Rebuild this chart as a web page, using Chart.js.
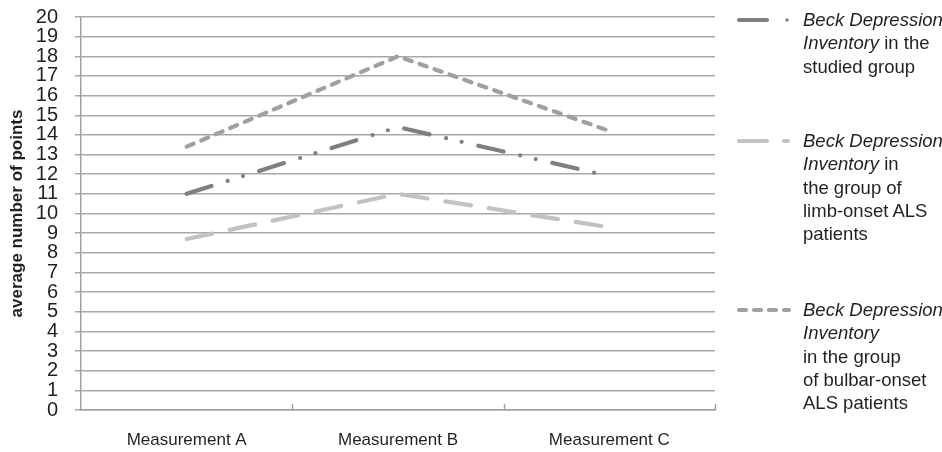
<!DOCTYPE html>
<html>
<head>
<meta charset="utf-8">
<script src="https://cdn.jsdelivr.net/npm/chart.js@4/dist/chart.umd.min.js"></script>
<style>
  html,body{margin:0;padding:0;background:#fff;}
  #wrap{position:relative;width:942px;height:452px;overflow:hidden;}
  canvas{position:absolute;left:0;top:0;}
  .leg{position:absolute;left:803px;font-family:"Liberation Sans Narrow","Arial Narrow","Liberation Sans",sans-serif;font-size:18.5px;line-height:23.3px;color:#231f20;white-space:nowrap;}
  .leg i{font-style:italic;}
</style>
</head>
<body>
<div id="wrap">
<canvas id="c" width="942" height="452"></canvas>
<div class="leg" style="top:8px"><i>Beck Depression</i><br><i>Inventory</i> in the<br>studied group</div>
<div class="leg" style="top:129px"><i>Beck Depression</i><br><i>Inventory</i> in<br>the group of<br>limb-onset ALS<br>patients</div>
<div class="leg" style="top:298px"><i>Beck Depression</i><br><i>Inventory</i><br>in the group<br>of bulbar-onset<br>ALS patients</div>
</div>
<script>
const categories = ["Measurement A", "Measurement B", "Measurement C"];
const studiedGroup = [11.0, 14.4, 11.9];
const limbOnset = [8.7, 11.0, 9.3];
const bulbarOnset = [13.4, 18.0, 14.2];
const yTicks = [0,1,2,3,4,5,6,7,8,9,10,11,12,13,14,15,16,17,18,19,20];
const seriesNames = ["Beck Depression Inventory in the studied group","Beck Depression Inventory in the group of limb-onset ALS patients","Beck Depression Inventory in the group of bulbar-onset ALS patients"];

const FONT = '"Liberation Sans Narrow","Arial Narrow","Liberation Sans",sans-serif';

const styles = [
  {color:'#7f7f7f', width:4.2, dash:[26,17,0,16,0,17]},
  {color:'#c2c2c2', width:4.2, dash:[26,18]},
  {color:'#a0a0a0', width:4.2, dash:[7.5,8.3]}
];

const extras = {
  id:'extras',
  afterDraw(chart){
    const ctx = chart.ctx;
    const x = chart.scales.x, y = chart.scales.y;
    ctx.save();
    ctx.strokeStyle = '#a0a0a0'; ctx.lineWidth = 1.5;
    const half = (x.getPixelForValue(1) - x.getPixelForValue(0))/2;
    for (let i=0;i<categories.length;i++){
      const px = Math.round(x.getPixelForValue(i)+half)+0.5;
      ctx.beginPath(); ctx.moveTo(px, y.bottom); ctx.lineTo(px, y.bottom-6); ctx.stroke();
    }
    // legend samples
    const ys = [20, 141, 310];
    ctx.lineCap = 'round';
    styles.forEach((s,i)=>{
      ctx.strokeStyle = s.color; ctx.lineWidth = s.width;
      ctx.setLineDash(i===2 ? [7,8] : []);
      ctx.beginPath(); ctx.moveTo(739, ys[i]); ctx.lineTo(i===2?789:767, ys[i]); ctx.stroke();
      ctx.setLineDash([]);
      if (i===0){ ctx.beginPath(); ctx.arc(787, ys[i], 1.7, 0, Math.PI*2); ctx.fillStyle=s.color; ctx.fill(); }
      if (i===1){ ctx.beginPath(); ctx.moveTo(784, ys[i]); ctx.lineTo(788, ys[i]); ctx.stroke(); }
    });
    ctx.restore();
  }
};

new Chart(document.getElementById('c'), {
  type:'line',
  data:{
    labels: categories,
    datasets:[studiedGroup, limbOnset, bulbarOnset].map((d,i)=>({
      label: seriesNames[i],
      data: d,
      borderColor: styles[i].color,
      borderWidth: styles[i].width,
      borderDash: styles[i].dash,
      borderCapStyle: 'round',
      pointRadius: 0,
      tension: 0,
      fill:false
    }))
  },
  options:{
    responsive:false,
    animation:false,
    layout:{padding:{left:0, right:227, top:17, bottom:0}},
    plugins:{legend:{display:false}, tooltip:{enabled:false}},
    scales:{
      x:{
        offset:true,
        afterFit(s){ s.height = 42; s.paddingLeft = 0; s.paddingRight = 0; },
        grid:{display:false, drawTicks:false},
        border:{display:true, color:'#a0a0a0', width:1.5},
        ticks:{color:'#231f20', padding:20, font:{family:FONT, size:17}}
      },
      y:{
        min:0, max:20,
        afterBuildTicks(s){ s.ticks = yTicks.map(v=>({value:v})); },
        afterFit(s){ s.width = 81; s.paddingTop = 0; s.paddingBottom = 0; },
        grid:{color:'#a8a8a8', lineWidth:1.5, tickLength:6},
        border:{display:true, color:'#a0a0a0', width:1.5},
        ticks:{color:'#231f20', padding:17, font:{family:FONT, size:20}, autoSkip:false},
        title:{display:true, text:'average number of points', color:'#231f20', font:{family:FONT, size:17, weight:'bold'}, padding:{top:7,bottom:0}}
      }
    }
  },
  plugins:[extras]
});
</script>
</body>
</html>
